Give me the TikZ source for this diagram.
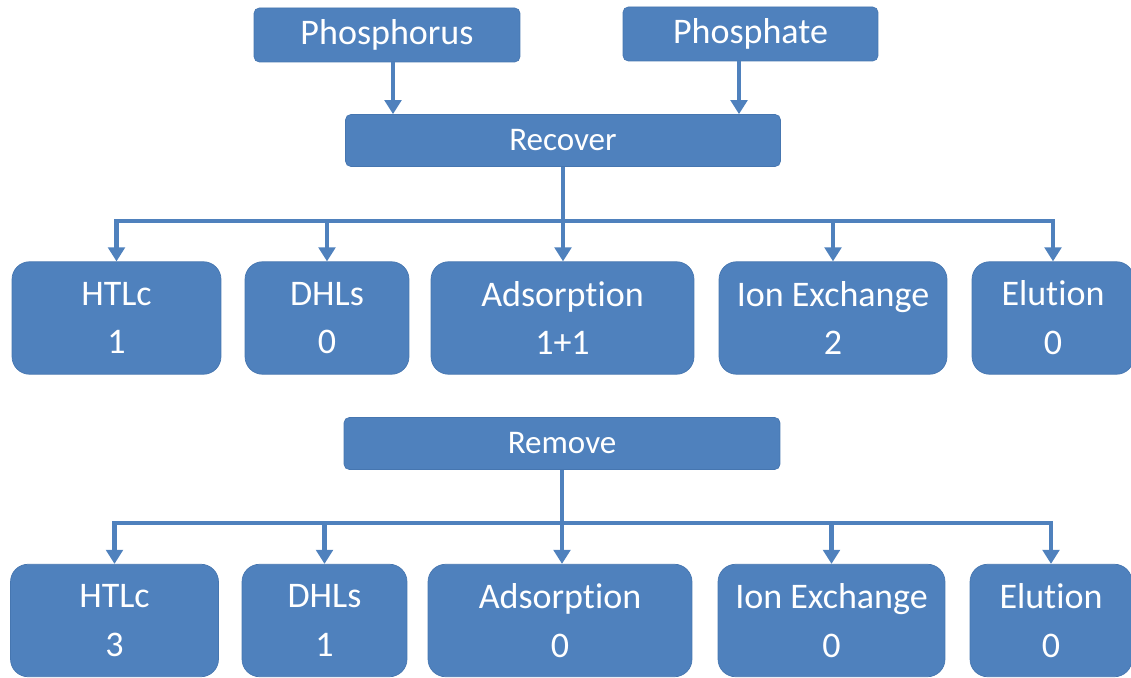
\documentclass[tikz,border=0pt]{standalone}
\usepackage{fontspec}
\setmainfont{Carlito}[Ligatures=NoCommon]
\usetikzlibrary{arrows.meta}
\definecolor{boxBlue}{RGB}{79,129,189}
\definecolor{edgeBlue}{RGB}{70,118,176}

\begin{document}
\begin{tikzpicture}[x=0.02cm,y=-0.02cm,
  topbox/.style={rounded corners=3pt,fill=boxBlue,draw=edgeBlue,line width=0.4pt,text=white,inner sep=0pt,
    minimum height=1.08cm,font=\fontsize{20.5}{24}\selectfont},
  midbox/.style={topbox,minimum height=1.04cm,font=\fontsize{18.8}{22}\selectfont},
  leafbox/.style={rounded corners=10pt,fill=boxBlue,draw=edgeBlue,line width=0.4pt,text=white,inner sep=0pt,
    align=center,minimum height=2.25cm,font=\fontsize{20.5}{27.8}\selectfont},
  link/.style={draw=boxBlue,line width=2.4pt,-{Triangle[width=0.33cm,length=0.28cm]}},
  bar/.style={draw=boxBlue,line width=2.4pt,line cap=rect}]
\useasboundingbox (0,0) rectangle (1131,678);

\node[topbox,minimum width=5.32cm] (phos) at (387,35) {Phosphorus};
\node[topbox,minimum width=5.10cm] (phate) at (750.5,34) {Phosphate};
\node[midbox,minimum width=8.70cm] (recover) at (563,140.5) {Recover};

\node[leafbox,minimum width=4.18cm] (htlcA) at (116.5,318) {HTLc\\1};
\node[leafbox,minimum width=3.28cm] (dhlsA) at (327,318) {DHLs\\0};
\node[leafbox,minimum width=5.26cm] (adsA) at (562.5,318) {Adsorption\\1+1};
\node[leafbox,minimum width=4.56cm] (ionA) at (833,318) {Ion Exchange\\2};
\node[leafbox,minimum width=3.24cm] (eluA) at (1053,318) {Elution\\0};

\node[midbox,minimum width=8.72cm] (remove) at (562,443.5) {Remove};

\node[leafbox,minimum width=4.16cm] (htlcB) at (114.5,620.5) {HTLc\\3};
\node[leafbox,minimum width=3.30cm] (dhlsB) at (324.5,620.5) {DHLs\\1};
\node[leafbox,minimum width=5.28cm] (adsB) at (560,620.5) {Adsorption\\0};
\node[leafbox,minimum width=4.54cm] (ionB) at (831.5,620.5) {Ion Exchange\\0};
\node[leafbox,minimum width=3.24cm] (eluB) at (1051,620.5) {Elution\\0};

% sources into recover
\coordinate (phosFoot) at ([xshift=0.12cm]phos.south);
\coordinate (phateFoot) at ([xshift=-0.23cm]phate.south);
\draw[link] (phosFoot) -- (phosFoot |- recover.north);
\draw[link] (phateFoot) -- (phateFoot |- recover.north);

% recover branches
\coordinate (barA) at (0,221);
\draw[bar] (htlcA.north |- barA) -- (eluA.north |- barA);
\draw[link] (recover.south) -- (recover.south |- adsA.north);
\foreach \leaf in {htlcA,dhlsA,ionA,eluA}
  \draw[link] (\leaf.north |- barA) -- (\leaf.north);

% remove branches
\coordinate (barB) at (0,523);
\draw[bar] (htlcB.north |- barB) -- (eluB.north |- barB);
\draw[link] (remove.south) -- (remove.south |- adsB.north);
\foreach \leaf in {htlcB,dhlsB,ionB,eluB}
  \draw[link] (\leaf.north |- barB) -- (\leaf.north);
\end{tikzpicture}
\end{document}
